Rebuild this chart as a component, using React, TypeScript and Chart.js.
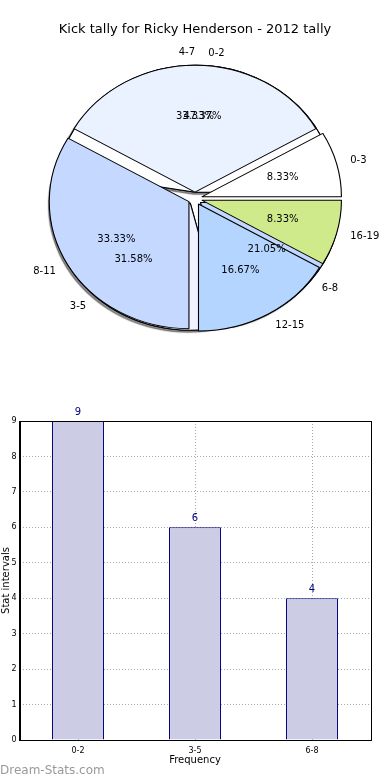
import React, { useEffect, useRef } from 'react';
import { Chart, registerables } from 'chart.js';

Chart.register(...registerables);

// ---------- data ----------
const chartTitle = 'Kick tally for Ricky Henderson - 2012 tally';
const freqLabels = ['0-2', '3-5', '6-8'];
const freqValues = [9, 6, 4];
const freqColors = ['#ffffff', '#eef3ff', '#c0d7ff'];
const intervalLabels = ['0-3', '4-7', '8-11', '12-15', '16-19'];
const intervalValues = [2, 8, 8, 4, 2];
const intervalColors = ['#ffffff', '#eaf1ff', '#c5d8ff', '#b4d5ff', '#cfea8a'];
const yTickMax = 9;
const xAxisTitle = 'Frequency';
const yAxisTitle = 'Stat intervals';
const watermark = 'Dream-Stats.com';

// ---------- style constants ----------
const FONT = '"DejaVu Sans", sans-serif';
const SX = 1.1; // horizontal stretch of the pie (non-equal aspect)
const EXPLODE = 6.35;

const rev = (a: any[]) => a.slice().reverse();

function explodePlugin(withShadow: boolean) {
  return {
    id: 'explodeDraw',
    beforeDatasetDraw(chart: any, args: any) {
      const ctx = chart.ctx;
      const els = args.meta.data;
      if (!els.length) return false;
      const cx = els[0].x;
      const cy = els[0].y;
      const pass = (shadow: boolean) => {
        els.forEach((el: any) => {
          const mid = (el.startAngle + el.endAngle) / 2;
          ctx.save();
          if (shadow) {
            ctx.shadowColor = 'rgba(40,40,40,0.55)';
            ctx.shadowOffsetX = -2;
            ctx.shadowOffsetY = 2;
            ctx.shadowBlur = 1;
          }
          ctx.translate(cx, cy);
          ctx.scale(SX, 1);
          ctx.translate(-cx, -cy);
          ctx.translate(Math.cos(mid) * EXPLODE, Math.sin(mid) * EXPLODE);
          el.draw(ctx, chart.chartArea);
          ctx.restore();
        });
      };
      if (withShadow) pass(true);
      pass(false);
      return false;
    },
  };
}

function drawPieTexts(chart: any, ctx: CanvasRenderingContext2D) {
  const meta = chart.getDatasetMeta(0);
  const values = chart.data.datasets[0].data as number[];
  const labels = chart.data.labels as string[];
  const total = values.reduce((s, v) => s + v, 0);
  ctx.save();
  ctx.font = `10px ${FONT}`;
  ctx.fillStyle = '#000';
  ctx.textBaseline = 'middle';
  meta.data.forEach((el: any, i: number) => {
    const cx = el.x;
    const cy = el.y;
    const mid = (el.startAngle + el.endAngle) / 2;
    const R = el.outerRadius;
    const c = Math.cos(mid);
    const s = Math.sin(mid);
    const ld = EXPLODE + 1.1 * R;
    ctx.textAlign = c > 1e-3 ? 'left' : 'right';
    ctx.fillText(labels[i], cx + SX * ld * c, cy + ld * s);
    const pd = EXPLODE + 0.6 * R;
    ctx.textAlign = 'center';
    ctx.fillText(((values[i] / total) * 100).toFixed(2) + '%', cx + SX * pd * c, cy + pd * s);
  });
  ctx.restore();
}

const pieLayout = { padding: { left: 67.5, right: 67.5, top: 71, bottom: 34 } };

export default function App() {
  const pieBottomRef = useRef<HTMLCanvasElement>(null);
  const pieTopRef = useRef<HTMLCanvasElement>(null);
  const barRef = useRef<HTMLCanvasElement>(null);

  useEffect(() => {
    const pie1 = new Chart(pieBottomRef.current as HTMLCanvasElement, {
      type: 'pie',
      data: {
        labels: rev(freqLabels),
        datasets: [
          {
            data: rev(freqValues),
            backgroundColor: rev(freqColors),
            borderColor: '#000',
            borderWidth: 1,
          },
        ],
      },
      options: {
        animation: false,
        responsive: false,
        events: [],
        rotation: 90,
        layout: pieLayout,
        plugins: { legend: { display: false }, tooltip: { enabled: false }, title: { display: false } },
      } as any,
      plugins: [explodePlugin(true)],
    });

    const pie2 = new Chart(pieTopRef.current as HTMLCanvasElement, {
      type: 'pie',
      data: {
        labels: rev(intervalLabels),
        datasets: [
          {
            data: rev(intervalValues),
            backgroundColor: rev(intervalColors),
            borderColor: '#000',
            borderWidth: 1,
          },
        ],
      },
      options: {
        animation: false,
        responsive: false,
        events: [],
        rotation: 90,
        layout: pieLayout,
        plugins: { legend: { display: false }, tooltip: { enabled: false }, title: { display: false } },
      } as any,
      plugins: [
        explodePlugin(false),
        {
          id: 'pieTexts',
          afterDraw(chart: any) {
            const ctx = chart.ctx;
            drawPieTexts(pie1, ctx);
            drawPieTexts(chart, ctx);
            ctx.save();
            ctx.font = `13px ${FONT}`;
            ctx.fillStyle = '#000';
            ctx.textAlign = 'center';
            ctx.textBaseline = 'middle';
            ctx.fillText(chartTitle, 195, 30);
            ctx.restore();
          },
        },
      ],
    });

    const bar = new Chart(barRef.current as HTMLCanvasElement, {
      type: 'bar',
      data: {
        labels: freqLabels,
        datasets: [
          {
            data: freqValues,
            backgroundColor: '#ccccE5',
            borderColor: '#000080',
            borderWidth: 1,
            barPercentage: 0.444,
            categoryPercentage: 1,
          },
        ],
      },
      options: {
        animation: false,
        responsive: false,
        events: [],
        layout: { padding: { left: 0, right: 19.5, top: 21, bottom: 14 } },
        plugins: { legend: { display: false }, tooltip: { enabled: false } },
        scales: {
          x: {
            grid: { display: true, offset: false, color: '#a8a8a8', drawTicks: false, lineWidth: 1 },
            border: { display: true, color: '#000', width: 1, dash: [1, 2] },
            ticks: { font: { size: 8, family: FONT }, color: '#000', padding: 6 },
            title: { display: true, text: xAxisTitle, font: { size: 10, family: FONT }, color: '#000', padding: 0 },
            afterFit: (s: any) => {
              s.height = 26;
            },
          },
          y: {
            min: 0,
            max: yTickMax,
            grid: { display: true, color: '#a8a8a8', drawTicks: false, lineWidth: 1 },
            border: { display: true, color: '#000', width: 1, dash: [1, 2] },
            ticks: { stepSize: 1, font: { size: 8, family: FONT }, color: '#000', padding: 3 },
            title: { display: true, text: yAxisTitle, font: { size: 10, family: FONT }, color: '#000', padding: 0 },
            afterFit: (s: any) => {
              s.width = 19.5;
            },
          },
        },
      } as any,
      plugins: [
        {
          id: 'frameAndValues',
          afterDraw(chart: any) {
            const ctx = chart.ctx;
            const a = chart.chartArea;
            ctx.save();
            ctx.strokeStyle = '#000';
            ctx.lineWidth = 1;
            ctx.strokeRect(Math.round(a.left) + 0.5, Math.round(a.top) + 0.5, Math.round(a.right - a.left), Math.round(a.bottom - a.top));
            const meta = chart.getDatasetMeta(0);
            const vals = chart.data.datasets[0].data;
            ctx.font = `10px ${FONT}`;
            ctx.fillStyle = '#000080';
            ctx.textAlign = 'center';
            ctx.textBaseline = 'middle';
            meta.data.forEach((b: any, i: number) => {
              ctx.fillText(String(vals[i]), b.x, b.y - 9);
            });
            ctx.restore();
          },
        },
      ],
    });

    return () => {
      pie2.destroy();
      pie1.destroy();
      bar.destroy();
    };
  }, []);

  return (
    <div style={{ position: 'absolute', left: 0, top: 0, width: 390, height: 780, background: '#fff', overflow: 'hidden' }}>
      <canvas ref={pieBottomRef} width={390} height={360} style={{ position: 'absolute', left: 0, top: 0 }} />
      <canvas ref={pieTopRef} width={390} height={360} style={{ position: 'absolute', left: 0, top: 0 }} />
      <canvas ref={barRef} width={390} height={380} style={{ position: 'absolute', left: 0, top: 400 }} />
      <div
        style={{
          position: 'absolute',
          left: 0,
          top: 763,
          fontFamily: FONT,
          fontSize: 12,
          lineHeight: '14px',
          color: '#9a9a9a',
        }}
      >
        {watermark}
      </div>
    </div>
  );
}
